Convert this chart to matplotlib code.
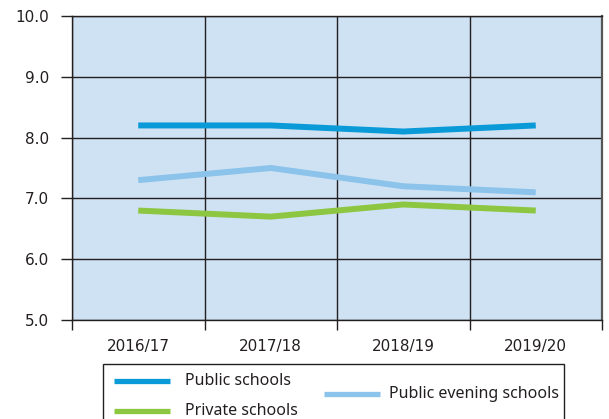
import matplotlib.pyplot as plt
from matplotlib.lines import Line2D
from matplotlib.patches import Rectangle

# --- Data ---
years = ['2016/17', '2017/18', '2018/19', '2019/20']
public_schools = [8.2, 8.2, 8.1, 8.2]
public_evening = [7.3, 7.5, 7.2, 7.1]
private_schools = [6.8, 6.7, 6.9, 6.8]

# --- Styles ---
BG = '#cfe2f3'
C_PUBLIC = '#0a9ad8'
C_EVENING = '#8cc3ea'
C_PRIVATE = '#8dc640'
DARK = '#231f20'

plt.rcParams['font.family'] = ['DejaVu Sans']

fig = plt.figure(figsize=(6.09, 4.19), dpi=100)
ax = fig.add_axes([72 / 609, 1 - 320 / 419, 530 / 609, 304 / 419])
ax.set_facecolor(BG)

x = range(len(years))
ax.plot(x, public_schools, color=C_PUBLIC, lw=4.3, solid_capstyle='butt', zorder=3)
ax.plot(x, public_evening, color=C_EVENING, lw=4.3, solid_capstyle='butt', zorder=3)
ax.plot(x, private_schools, color=C_PRIVATE, lw=4.3, solid_capstyle='butt', zorder=3)

ax.set_xlim(-0.5, len(years) - 0.5)
ax.set_ylim(5.0, 10.0)
ax.set_yticks([5, 6, 7, 8, 9, 10])
ax.set_yticklabels([f'{v:.1f}' for v in [5, 6, 7, 8, 9, 10]])
ax.set_xticks(list(x))
ax.set_xticklabels(years)
ax.set_xticks([i - 0.5 for i in range(len(years) + 1)], minor=True)

ax.tick_params(axis='y', length=8, width=1, color=DARK, labelsize=11, pad=8.5,
               labelcolor=DARK)
ax.tick_params(axis='x', which='major', length=0, labelsize=11, pad=14,
               labelcolor=DARK)
ax.tick_params(axis='x', which='minor', length=7, width=1, color=DARK)

ax.grid(axis='y', color=DARK, lw=1, zorder=1)
ax.grid(axis='x', which='minor', color=DARK, lw=1, zorder=1)
ax.set_axisbelow(True)
for s in ax.spines.values():
    s.set_color(DARK)
    s.set_linewidth(1)
ax.spines['right'].set_color('#555555')
ax.spines['right'].set_linewidth(1.6)

# --- Custom legend box ---
def fx(px):
    return px / 609

def fy(py):
    return 1 - py / 419

fig.add_artist(Rectangle((fx(103), fy(425)), fx(564) - fx(103), fy(364) - fy(425),
                         transform=fig.transFigure, facecolor='white',
                         edgecolor=DARK, lw=1))
entries = [
    ('Public schools', C_PUBLIC, 114, 381, 185),
    ('Private schools', C_PRIVATE, 114, 411, 185),
    ('Public evening schools', C_EVENING, 324, 394, 389),
]
for label, color, x0, y0, tx in entries:
    fig.add_artist(Line2D([fx(x0), fx(x0 + 56)], [fy(y0), fy(y0)],
                          transform=fig.transFigure, color=color, lw=3.8,
                          solid_capstyle='butt'))
    fig.text(fx(tx), fy(y0), label, fontsize=11.5, va='center',
             family=['Noto Sans', 'DejaVu Sans'], color=DARK)

fig.savefig('out.png', dpi=100)
